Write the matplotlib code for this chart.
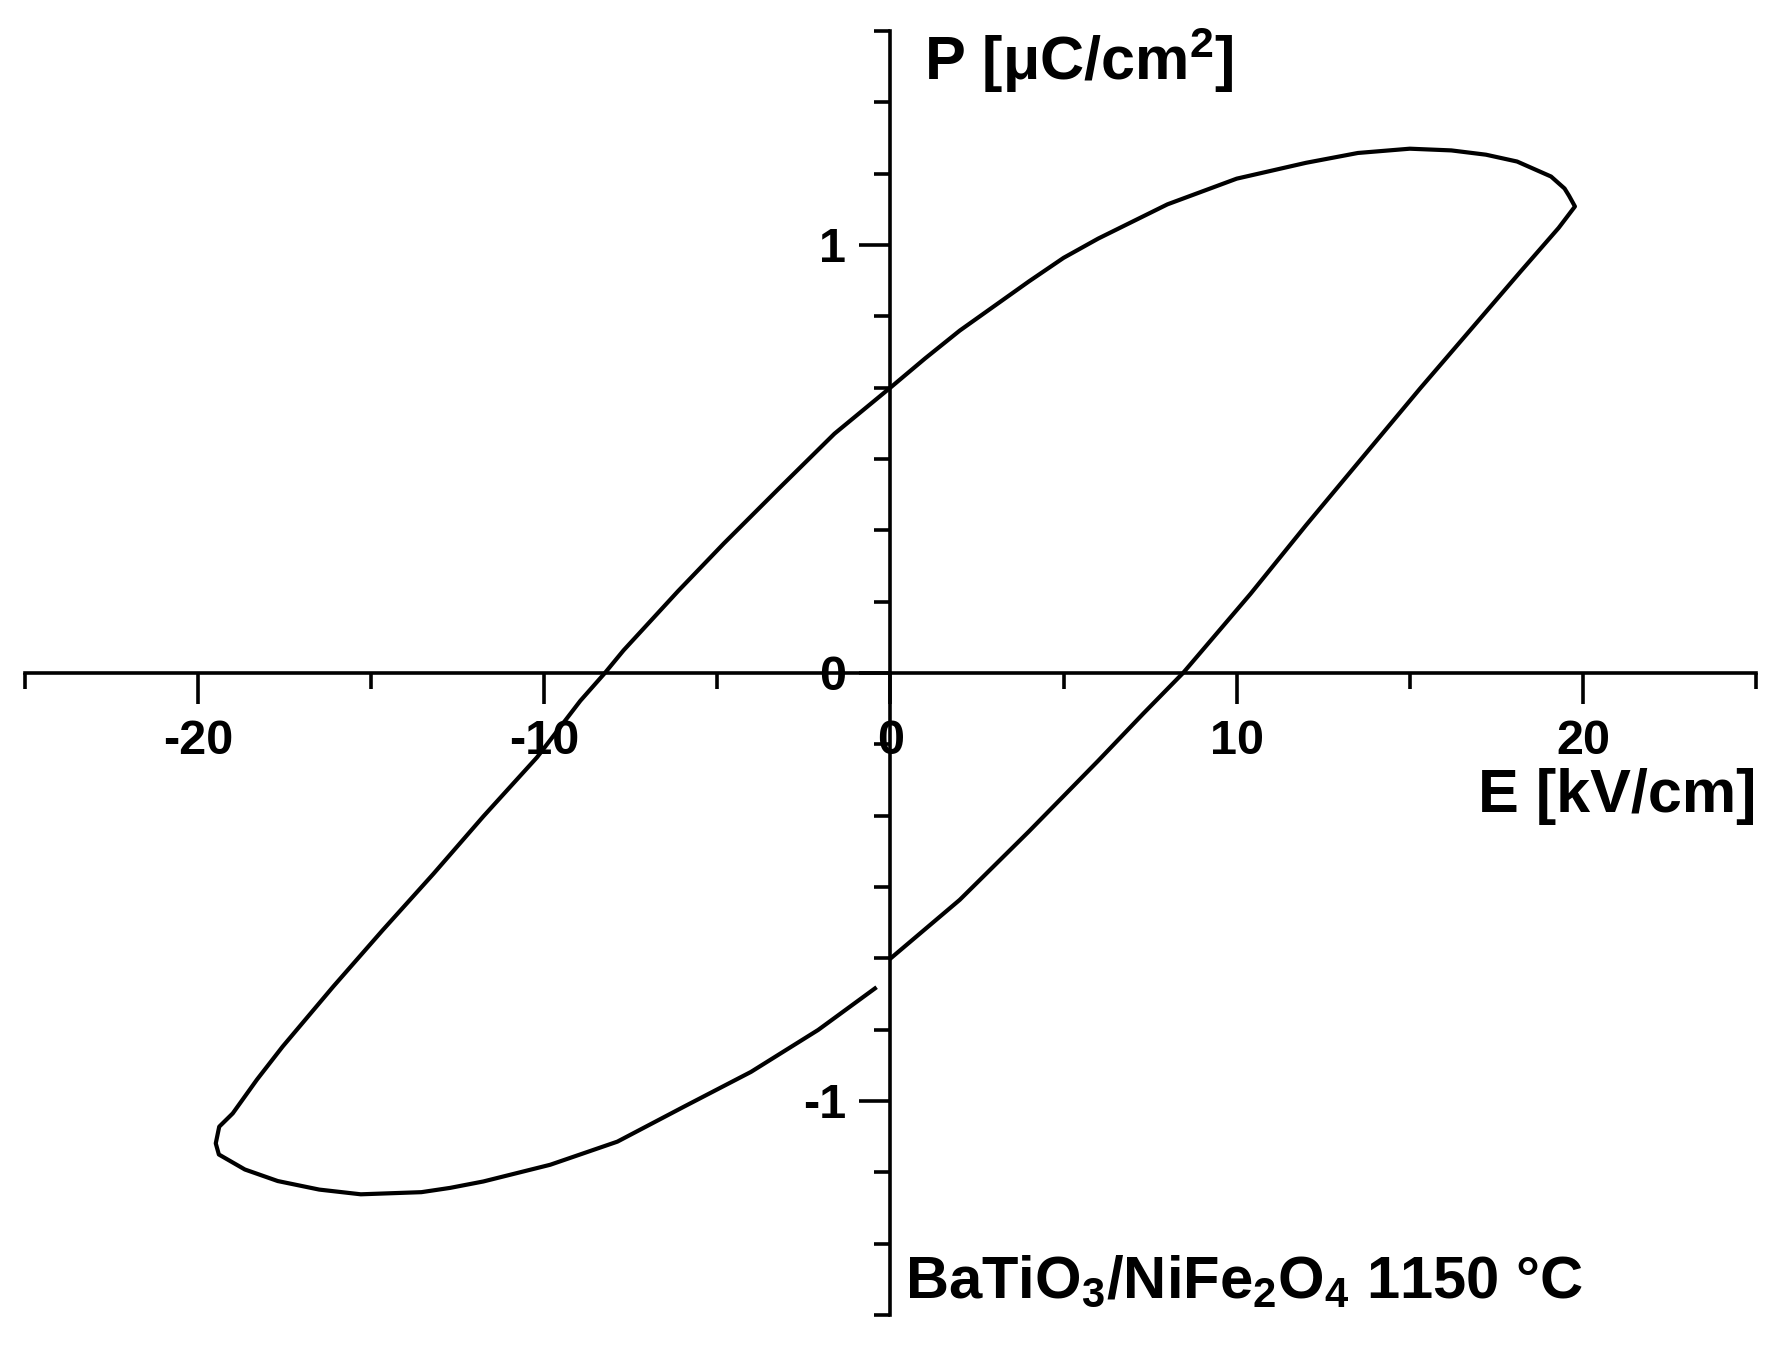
import matplotlib
matplotlib.use("Agg")
from matplotlib import pyplot as plt
from matplotlib.ticker import MultipleLocator

# P-E loop (E in kV/cm, P in uC/cm2)
# rising branch: starts at E=0 and goes out to the right tip
rise_E = [0, 2.0, 4.0, 6.0, 7.3, 8.45, 10.4, 12.0, 13.7, 15.3, 17.0, 18.2, 19.3, 19.77]
rise_P = [-0.667, -0.53, -0.37, -0.205, -0.095, 0.0, 0.185, 0.345, 0.51, 0.665, 0.825, 0.938, 1.04, 1.09]

# top branch: right tip back to E=0
top_E = [19.6, 19.47, 19.08, 18.1, 17.2, 16.2, 15.0, 13.5, 12.0, 10.0, 8.0, 6.0, 5.0, 4.0, 2.0, 1.0, 0]
top_P = [1.115, 1.132, 1.16, 1.195, 1.211, 1.221, 1.225, 1.215, 1.192, 1.155, 1.095, 1.015, 0.97, 0.915, 0.80, 0.735, 0.667]

# falling branch: E=0 down to the left tip
fall_E = [-1.62, -3.25, -4.81, -6.14, -7.71, -8.25, -8.96, -10.21, -11.76, -13.2, -14.67, -16.1, -17.56, -18.3, -19.0, -19.39, -19.49]
fall_P = [0.559, 0.429, 0.303, 0.191, 0.053, 0.0, -0.065, -0.197, -0.335, -0.469, -0.601, -0.733, -0.873, -0.95, -1.029, -1.06, -1.099]

# bottom branch: left tip back towards E=0 (loop left open)
bottom_E = [-19.4, -18.65, -17.7, -16.5, -15.3, -13.55, -12.72, -11.76, -9.83, -7.89, -5.96, -4.03, -2.09, -0.45]
bottom_P = [-1.125, -1.16, -1.187, -1.207, -1.218, -1.213, -1.203, -1.188, -1.149, -1.095, -1.013, -0.932, -0.834, -0.737]

E = rise_E + top_E + fall_E + bottom_E
P = rise_P + top_P + fall_P + bottom_P

plt.rcParams['font.family'] = ['Liberation Sans', 'DejaVu Sans']
plt.rcParams['font.weight'] = 'bold'
plt.rcParams['mathtext.fontset'] = 'custom'
plt.rcParams['mathtext.rm'] = 'Liberation Sans:bold'
plt.rcParams['mathtext.it'] = 'Liberation Sans:bold'
plt.rcParams['mathtext.bf'] = 'Liberation Sans:bold'
plt.rcParams['axes.unicode_minus'] = False

fig = plt.figure(figsize=(17.81, 13.48), dpi=100)
ax = fig.add_axes([25 / 1781, 1 - 1315 / 1348, (1756 - 25) / 1781, (1315 - 31) / 1348])

ax.plot(E, P, color='black', lw=3.0, solid_joinstyle='round')

ax.set_xlim(-25, 25)
ax.set_ylim(-1.5, 1.5)

# axes through the origin
for side in ['top', 'right']:
    ax.spines[side].set_visible(False)
ax.spines['left'].set_position(('data', 0))
ax.spines['bottom'].set_position(('data', 0))
ax.spines['left'].set_linewidth(2.6)
ax.spines['bottom'].set_linewidth(2.6)

ax.xaxis.set_major_locator(MultipleLocator(10))
ax.xaxis.set_minor_locator(MultipleLocator(5))
ax.yaxis.set_major_locator(MultipleLocator(1))
ax.yaxis.set_minor_locator(MultipleLocator(1 / 6))

ax.tick_params(axis='both', which='major', direction='out', length=22, width=2.6, labelsize=35)
ax.tick_params(axis='both', which='minor', direction='out', length=11.5, width=2.6)
ax.tick_params(axis='x', which='major', pad=11)
ax.tick_params(axis='y', which='major', pad=10)

# axis titles
ax.text(0.96, 1.385, r'P [μC/cm$^2$]', fontsize=44, fontweight='bold', ha='left', va='baseline')
ax.text(25.0, -0.325, 'E [kV/cm]', fontsize=44, fontweight='bold', ha='right', va='baseline')

# sample label
ax.text(0.42, -1.46, r'BaTiO$_3$/NiFe$_2$O$_4$ 1150 °C', fontsize=43, fontweight='bold',
        ha='left', va='baseline', clip_on=False)

plt.savefig('out.png', dpi=100, facecolor='white')
